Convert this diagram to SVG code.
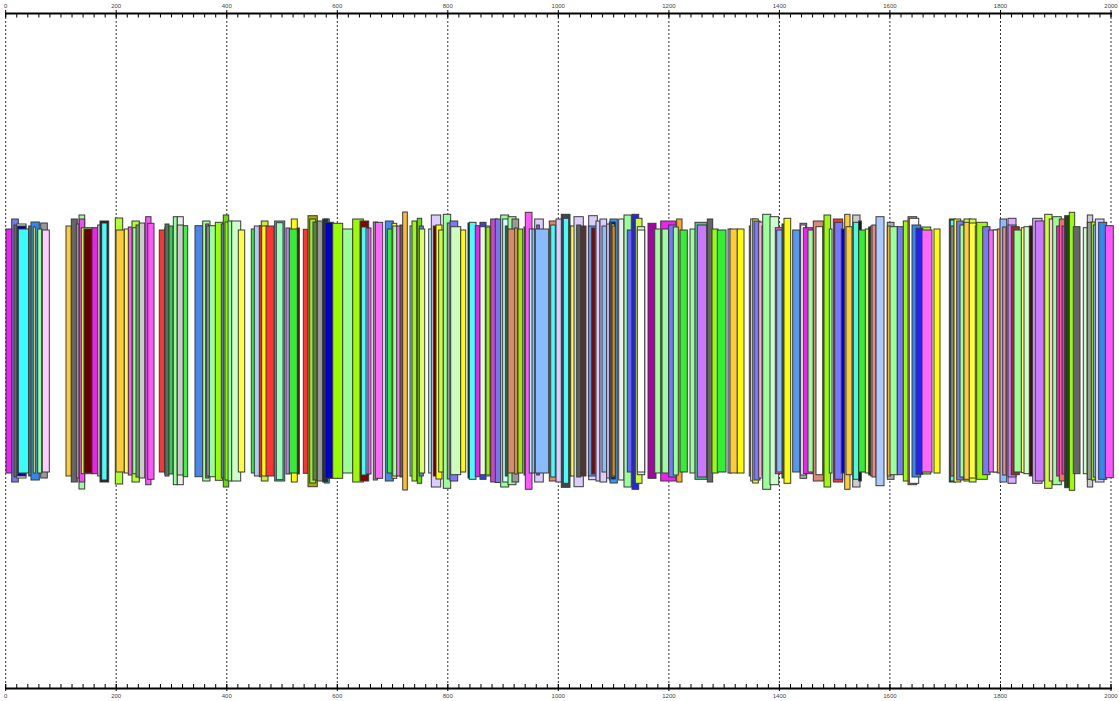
<svg xmlns="http://www.w3.org/2000/svg" width="1119" height="701" viewBox="0 0 1119 701">
<style>
.grid line{stroke:#333;stroke-width:1;stroke-dasharray:2 2}
.ax{stroke:#000;stroke-width:2}
.tk{stroke:#000;stroke-width:1}
.lbl{font-family:"Liberation Sans",Arial,sans-serif;font-size:6px;fill:#444;text-anchor:middle}
#bars rect{stroke:#3a3a3a;stroke-width:1}
</style>
<rect width="1119" height="701" fill="#fff"/>
<g class="grid">
<line x1="5.7" y1="17" x2="5.7" y2="685"/><line x1="116.2" y1="17" x2="116.2" y2="685"/><line x1="226.8" y1="17" x2="226.8" y2="685"/><line x1="337.3" y1="17" x2="337.3" y2="685"/><line x1="447.8" y1="17" x2="447.8" y2="685"/><line x1="558.3" y1="17" x2="558.3" y2="685"/><line x1="668.9" y1="17" x2="668.9" y2="685"/><line x1="779.4" y1="17" x2="779.4" y2="685"/><line x1="889.9" y1="17" x2="889.9" y2="685"/><line x1="1000.5" y1="17" x2="1000.5" y2="685"/><line x1="1111" y1="17" x2="1111" y2="685"/>
</g>
<g id="axis-top">
<line class="ax" x1="5" y1="13.5" x2="1112" y2="13.5"/>
<line x1="5.2" y1="15.5" x2="1112" y2="15.5" stroke="#000" stroke-width="4" stroke-dasharray="1 10.053"/>
<path class="tk" d="M5.7 10v7M116.2 10v7M226.8 10v7M337.3 10v7M447.8 10v7M558.3 10v7M668.9 10v7M779.4 10v7M889.9 10v7M1000.5 10v7M1111 10v7"/>
<text class="lbl" x="5.7" y="8">0</text><text class="lbl" x="116.2" y="8">200</text><text class="lbl" x="226.8" y="8">400</text><text class="lbl" x="337.3" y="8">600</text><text class="lbl" x="447.8" y="8">800</text><text class="lbl" x="558.3" y="8">1000</text><text class="lbl" x="668.9" y="8">1200</text><text class="lbl" x="779.4" y="8">1400</text><text class="lbl" x="889.9" y="8">1600</text><text class="lbl" x="1000.5" y="8">1800</text><text class="lbl" x="1111" y="8">2000</text>
</g>
<g id="axis-bottom">
<line class="ax" x1="5" y1="688.5" x2="1112" y2="688.5"/>
<line x1="5.2" y1="686" x2="1112" y2="686" stroke="#000" stroke-width="4" stroke-dasharray="1 10.053"/>
<path class="tk" d="M5.7 684v7M116.2 684v7M226.8 684v7M337.3 684v7M447.8 684v7M558.3 684v7M668.9 684v7M779.4 684v7M889.9 684v7M1000.5 684v7M1111 684v7"/>
<text class="lbl" x="5.7" y="698">0</text><text class="lbl" x="116.2" y="698">200</text><text class="lbl" x="226.8" y="698">400</text><text class="lbl" x="337.3" y="698">600</text><text class="lbl" x="447.8" y="698">800</text><text class="lbl" x="558.3" y="698">1000</text><text class="lbl" x="668.9" y="698">1200</text><text class="lbl" x="779.4" y="698">1400</text><text class="lbl" x="889.9" y="698">1600</text><text class="lbl" x="1000.5" y="698">1800</text><text class="lbl" x="1111" y="698">2000</text>
</g>
<g id="bars">
<rect x="11.7" y="219" width="6.6" height="263" fill="#7777ee"/>
<rect x="6" y="229" width="5.7" height="244" fill="#ee22ee"/>
<rect x="14" y="225" width="3" height="252" fill="#666"/>
<rect x="16.7" y="224" width="9.3" height="254" fill="#ffffcc"/>
<rect x="17.5" y="226" width="8.5" height="250" fill="#0000aa"/>
<rect x="18.3" y="229" width="10.4" height="244" fill="#33ffff"/>
<rect x="28.7" y="226" width="3.3" height="250" fill="#557777"/>
<rect x="31" y="222" width="8.3" height="258" fill="#3388ee"/>
<rect x="33.3" y="227" width="2" height="246" fill="#ffff33"/>
<rect x="40.7" y="223" width="6.6" height="255" fill="#999"/>
<rect x="37.7" y="229" width="4" height="244" fill="#99ff99"/>
<rect x="42.3" y="230" width="7" height="242" fill="#ffccff"/>

<rect x="66" y="226" width="5.3" height="250" fill="#ffcc33"/>
<rect x="71.3" y="219" width="6" height="263" fill="#666"/>
<rect x="76.3" y="224" width="3.7" height="254" fill="#999"/>
<rect x="79" y="215" width="5.7" height="274" fill="#99ff99"/>
<rect x="79.3" y="219" width="5.4" height="263" fill="#ff44ff"/>
<rect x="81.3" y="227.7" width="11.4" height="246" fill="#bbff33"/>
<rect x="84" y="229" width="8.7" height="244" fill="#660000"/>
<rect x="92" y="227.7" width="6.7" height="246" fill="#ee22ee"/>
<rect x="97.7" y="225" width="3.3" height="251" fill="#ccc"/>
<rect x="100" y="221" width="8.7" height="261" fill="#331111"/>
<rect x="101.7" y="223" width="5.3" height="257" fill="#44ffff"/>

<rect x="115.3" y="218" width="7.4" height="266" fill="#b0ff30"/>
<rect x="116" y="230" width="8.3" height="242" fill="#ffcc33"/>
<rect x="124.3" y="229" width="4.4" height="244" fill="#ffff33"/>
<rect x="128.3" y="227" width="4.4" height="248" fill="#ff55ff"/>
<rect x="132" y="221" width="7.3" height="261" fill="#b0ff30"/>
<rect x="132.7" y="227.7" width="6" height="246" fill="#99ff99"/>
<rect x="136" y="225" width="4" height="252" fill="#669966"/>
<rect x="139.3" y="223" width="5.4" height="255" fill="#ccc"/>
<rect x="145.7" y="216.7" width="5.3" height="268" fill="#ff55ff"/>
<rect x="147.7" y="223.3" width="6.3" height="256" fill="#ff55ff"/>
<rect x="159.3" y="230" width="5.4" height="242" fill="#ff3333"/>
<rect x="164.7" y="228" width="3" height="246" fill="#ff8800"/>
<rect x="165" y="224" width="4" height="252" fill="#557755"/>
<rect x="169" y="226" width="4" height="248" fill="#33cc55"/>
<rect x="173.3" y="216.7" width="4" height="268" fill="#99ff99"/>
<rect x="177.3" y="216.7" width="6" height="268" fill="#eee"/>
<rect x="177.3" y="225" width="6" height="250" fill="#ccc"/>
<rect x="183.3" y="225.7" width="4.4" height="251" fill="#44ee44"/>

<rect x="195" y="225.7" width="8" height="251" fill="#4488ee"/>
<rect x="202.7" y="221" width="7.3" height="260" fill="#99ff99"/>
<rect x="205.7" y="224" width="3" height="254" fill="#ee44ee"/>
<rect x="206.7" y="226" width="3" height="250" fill="#999"/>
<rect x="209.3" y="225.7" width="6.7" height="251" fill="#99ff99"/>
<rect x="215.3" y="222.3" width="7.4" height="258" fill="#99ff00"/>
<rect x="221.3" y="224" width="3" height="254" fill="#7777ff"/>
<rect x="223.3" y="215" width="5.4" height="272" fill="#66dd00"/>
<rect x="225" y="222" width="4" height="258" fill="#99ff00"/>
<rect x="228" y="221" width="4" height="260" fill="#99ff99"/>
<rect x="231.7" y="221" width="9" height="260" fill="#ccffcc"/>
<rect x="238.3" y="230" width="6.4" height="242" fill="#ffff33"/>

<rect x="251.3" y="229" width="4" height="244" fill="#33ee33"/>
<rect x="254.3" y="226" width="5.7" height="250" fill="#aaccff"/>
<rect x="259.3" y="225.7" width="3" height="251" fill="#ff3333"/>
<rect x="261.3" y="221" width="6.7" height="260" fill="#ccee33"/>
<rect x="261.7" y="226" width="5" height="250" fill="#ffff00"/>
<rect x="266" y="226" width="8" height="250" fill="#ff3333"/>
<rect x="274.7" y="221" width="10" height="260" fill="#44cc88"/>
<rect x="276.3" y="222.7" width="6.7" height="257" fill="#99ffbb"/>
<rect x="286" y="228" width="4" height="246" fill="#cc77ff"/>
<rect x="291.3" y="219" width="6" height="263" fill="#ffff00"/>
<rect x="289.3" y="229" width="8.7" height="244" fill="#33ee33"/>
<rect x="297.3" y="228" width="2" height="246" fill="#552200"/>

<rect x="303.3" y="229.3" width="4.7" height="244" fill="#ff3333"/>
<rect x="308" y="215.7" width="9.3" height="271" fill="#aaaa00"/>
<rect x="309.7" y="219" width="6" height="264" fill="#99ee33"/>
<rect x="313" y="222" width="4" height="258" fill="#558833"/>
<rect x="317.3" y="221" width="5.3" height="260" fill="#999"/>
<rect x="324.3" y="219" width="5" height="264" fill="#33ffff"/>
<rect x="322.7" y="219" width="5.3" height="263" fill="#223322"/>
<rect x="325" y="222.3" width="8.3" height="256" fill="#0000cc"/>
<rect x="332.7" y="223.3" width="10" height="255" fill="#99ff00"/>
<rect x="342.7" y="229" width="10" height="244" fill="#99ff99"/>
<rect x="352.7" y="219" width="10.6" height="263" fill="#99ff00"/>
<rect x="360" y="221" width="8.7" height="260" fill="#880000"/>
<rect x="361.3" y="227" width="5.3" height="248" fill="#44ffff"/>
<rect x="366" y="228" width="3" height="246" fill="#88bbff"/>
<rect x="368" y="228" width="3" height="246" fill="#ff55ff"/>
<rect x="373.3" y="222" width="4" height="258" fill="#999"/>
<rect x="375.3" y="222.3" width="7.4" height="256" fill="#ff66ff"/>
<rect x="385.3" y="221" width="8" height="260" fill="#4488ee"/>
<rect x="387.3" y="229" width="5.4" height="244" fill="#33ee33"/>
<rect x="392" y="223.3" width="4.7" height="255" fill="#ffff00"/>
<rect x="392.7" y="226" width="4.7" height="250" fill="#99ff99"/>
<rect x="396.7" y="226" width="4" height="250" fill="#ff66ff"/>

<rect x="400" y="225" width="3" height="252" fill="#556655"/>
<rect x="402.7" y="212" width="4.6" height="278" fill="#ffbb33"/>
<rect x="410" y="226" width="3.3" height="250" fill="#88ccff"/>
<rect x="412" y="221" width="4.7" height="260" fill="#99ff00"/>
<rect x="417.3" y="218.3" width="4.4" height="265" fill="#66dd00"/>
<rect x="419.3" y="226" width="4" height="250" fill="#5588ee"/>
<rect x="419.3" y="229" width="5.4" height="244" fill="#ddff66"/>
<rect x="428.7" y="229" width="3.3" height="244" fill="#aaffff"/>
<rect x="431.3" y="215" width="9.4" height="272" fill="#ddccff"/>
<rect x="433.3" y="226" width="3.3" height="250" fill="#660000"/>
<rect x="436" y="225" width="6" height="254" fill="#ffff00"/>
<rect x="438.7" y="230" width="4.6" height="242" fill="#ccff33"/>
<rect x="443.3" y="214.3" width="7.4" height="274" fill="#99ff99"/>
<rect x="447.3" y="223" width="4.7" height="256" fill="#999"/>
<rect x="450" y="221" width="7.7" height="260" fill="#7777ff"/>
<rect x="450.7" y="226.7" width="10" height="248" fill="#ccffbb"/>
<rect x="460.7" y="230" width="5" height="242" fill="#ffff00"/>

<rect x="468" y="223" width="2" height="255" fill="#440000"/>
<rect x="469.3" y="222.3" width="6.7" height="257" fill="#44ffff"/>
<rect x="475.3" y="225.7" width="5.4" height="251" fill="#ee22ee"/>
<rect x="480" y="222.3" width="6" height="257" fill="#3344ee"/>
<rect x="480" y="226.7" width="6" height="248" fill="#ddffdd"/>
<rect x="485.3" y="226" width="5" height="250" fill="#ccffff"/>
<rect x="486" y="227" width="4" height="248" fill="#99ee00"/>
<rect x="490.7" y="219" width="6.6" height="263" fill="#cc44cc"/>
<rect x="495.3" y="219" width="6.4" height="263.5" fill="#7777ee"/>
<rect x="500.7" y="215" width="8" height="272" fill="#99ff99"/>
<rect x="502.7" y="219" width="6" height="263" fill="#ccffff"/>
<rect x="505.3" y="226" width="3.4" height="250" fill="#226644"/>
<rect x="508" y="216.7" width="8" height="268" fill="#99ff99"/>
<rect x="512" y="219" width="6.7" height="263" fill="#999"/>
<rect x="508" y="229" width="7.3" height="244" fill="#dd8866"/>
<rect x="514.7" y="228" width="2.6" height="246" fill="#ffaa33"/>
<rect x="518" y="229" width="4.7" height="244" fill="#99ee00"/>
<rect x="524" y="227" width="2" height="248" fill="#336633"/>
<rect x="525.3" y="212.3" width="6.7" height="277" fill="#ff55ff"/>
<rect x="529.3" y="229" width="3.3" height="244" fill="#aaffee"/>
<rect x="532" y="229" width="4" height="244" fill="#88bbff"/>
<rect x="534.7" y="219" width="8.6" height="263" fill="#ddccff"/>
<rect x="536.7" y="225" width="2.6" height="250" fill="#7766cc"/>
<rect x="535.3" y="229" width="13.4" height="244" fill="#88bbff"/>
<rect x="549.3" y="221" width="7.4" height="260" fill="#dd8866"/>
<rect x="550.7" y="225" width="4.6" height="252" fill="#44ffff"/>
<rect x="556" y="219" width="6" height="263" fill="#ddccff"/>
<rect x="561.3" y="214.3" width="8.7" height="273" fill="#444"/>
<rect x="563.3" y="218.3" width="5.4" height="265" fill="#44ffff"/>
<rect x="569.3" y="226" width="2" height="250" fill="#aa5533"/>
<rect x="570.7" y="226" width="4" height="250" fill="#ffff44"/>
<rect x="574" y="216.7" width="9.3" height="270" fill="#ddccff"/>
<rect x="576.7" y="225" width="4" height="252" fill="#556655"/>
<rect x="581" y="226" width="5" height="250" fill="#553333"/>
<rect x="588.7" y="215.7" width="8.6" height="264" fill="#ddccff"/>
<rect x="588.3" y="226" width="8.4" height="250" fill="#5599ee"/>
<rect x="591.7" y="228" width="3.3" height="246" fill="#880000"/>
<rect x="596" y="221" width="4" height="260" fill="#ddccff"/>

<rect x="600" y="219" width="6.7" height="263" fill="#ddccff"/>
<rect x="602" y="226" width="4.7" height="246" fill="#88bbff"/>
<rect x="606.7" y="224" width="3.3" height="254" fill="#ddccff"/>
<rect x="609.3" y="222" width="2.7" height="258" fill="#222"/>
<rect x="610" y="219" width="7.3" height="264" fill="#3399ee"/>
<rect x="611" y="222" width="4.3" height="257" fill="#0000aa"/>
<rect x="611.3" y="224" width="3.3" height="253" fill="#ffcc00"/>
<rect x="612" y="226" width="3.3" height="250" fill="#dd8800"/>
<rect x="618.7" y="219" width="5.3" height="261" fill="#eee"/>
<rect x="624" y="215" width="7.3" height="272" fill="#99ff99"/>
<rect x="627.3" y="230" width="4.7" height="242" fill="#6666ff"/>
<rect x="632" y="214.3" width="6.7" height="275" fill="#2222ff"/>
<rect x="635.3" y="218.3" width="6.7" height="265" fill="#ccff33"/>
<rect x="637.3" y="226.7" width="7.4" height="248" fill="#ccffcc"/>
<rect x="637.3" y="230" width="7.4" height="242" fill="#fff"/>

<rect x="648" y="223.3" width="8" height="255" fill="#aa00aa"/>
<rect x="654.7" y="229" width="7.3" height="244" fill="#99ff99"/>
<rect x="660.7" y="221" width="15.3" height="260" fill="#ee22ee"/>
<rect x="662" y="229" width="6.7" height="244" fill="#99ff99"/>
<rect x="668.7" y="225" width="8" height="252" fill="#7777ff"/>
<rect x="676.7" y="219" width="5.3" height="263" fill="#ffaa22"/>
<rect x="673.3" y="227" width="5" height="248" fill="#99ff99"/>
<rect x="680" y="230" width="7.3" height="242" fill="#33ee33"/>
<rect x="690" y="229" width="5.3" height="244" fill="#99ff99"/>
<rect x="695" y="222.3" width="12.3" height="257" fill="#44cc88"/>
<rect x="697.3" y="225" width="9.4" height="252" fill="#cc77ff"/>
<rect x="707.3" y="219" width="5.4" height="263" fill="#666"/>
<rect x="712" y="229" width="6" height="244" fill="#99ff00"/>
<rect x="717.3" y="230" width="8.7" height="242" fill="#33ee33"/>

<rect x="728" y="229" width="3" height="244" fill="#88bbff"/>
<rect x="730" y="229" width="7.3" height="244" fill="#ffcc33"/>
<rect x="737.3" y="229" width="6.7" height="244" fill="#ffff00"/>
<rect x="749.3" y="226" width="2.7" height="250" fill="#cc8800"/>
<rect x="750.7" y="219" width="6" height="262" fill="#ccffff"/>
<rect x="752.7" y="219" width="5.6" height="264" fill="#ffff00"/>
<rect x="754" y="221" width="6" height="259" fill="#7777ff"/>
<rect x="758.7" y="222" width="5.3" height="256" fill="#ffaacc"/>
<rect x="762" y="226" width="2" height="250" fill="#555"/>
<rect x="762.7" y="214.3" width="8" height="275" fill="#99ff99"/>
<rect x="770" y="216.7" width="8.7" height="268" fill="#ccffcc"/>
<rect x="775.3" y="227.7" width="7.4" height="246" fill="#ff55ee"/>
<rect x="776.7" y="230" width="6" height="242" fill="#88bbff"/>
<rect x="782" y="224" width="3" height="254" fill="#445544"/>
<rect x="784" y="218.3" width="6.7" height="265" fill="#ffff00"/>
<rect x="792.7" y="230" width="7.3" height="242" fill="#5599ee"/>

<rect x="800" y="223.3" width="6.7" height="255" fill="#aaa"/>
<rect x="800.7" y="225" width="5" height="250" fill="#fff"/>
<rect x="803.3" y="227.7" width="9.4" height="246" fill="#ee22ee"/>
<rect x="808" y="230" width="5.3" height="242" fill="#99ff99"/>
<rect x="813.3" y="221" width="10" height="260" fill="#dd8877"/>
<rect x="816" y="226.7" width="6.7" height="248" fill="#fff"/>
<rect x="824" y="215" width="6.7" height="272" fill="#99ff00"/>
<rect x="829.3" y="229" width="2.7" height="244" fill="#99ff99"/>
<rect x="833.3" y="219" width="9.4" height="263" fill="#ff3333"/>
<rect x="834.7" y="222.3" width="8" height="257" fill="#7777ff"/>
<rect x="841.3" y="229" width="5.4" height="244" fill="#0000dd"/>
<rect x="844.7" y="214.3" width="5.3" height="275" fill="#ffcc33"/>
<rect x="846" y="226.7" width="6" height="248" fill="#ffcc33"/>
<rect x="852.7" y="215" width="7.3" height="272" fill="#ccc"/>
<rect x="853.3" y="222.3" width="6" height="257" fill="#44ffdd"/>
<rect x="858.7" y="221" width="2.6" height="260" fill="#111"/>
<rect x="858.7" y="230" width="7.3" height="242" fill="#33ee33"/>
<rect x="865.3" y="229" width="4.7" height="244" fill="#ccff66"/>
<rect x="868.7" y="227" width="2.6" height="248" fill="#223322"/>
<rect x="870.7" y="226" width="3.3" height="250" fill="#99ee00"/>
<rect x="872" y="225" width="4" height="252" fill="#ee8888"/>
<rect x="876" y="216.7" width="8" height="269" fill="#aaccff"/>

<rect x="887.3" y="222.3" width="6.7" height="257" fill="#aaa"/>
<rect x="887.3" y="226" width="3.3" height="250" fill="#ffaa33"/>
<rect x="890" y="226.7" width="7.3" height="248" fill="#99ff99"/>
<rect x="897.3" y="226.7" width="6" height="248" fill="#7777ff"/>
<rect x="903.3" y="221" width="5.4" height="260" fill="#99ff00"/>
<rect x="908" y="216.7" width="8.7" height="268" fill="#dd8866"/>
<rect x="909.3" y="218.3" width="9.4" height="265" fill="#fff"/>
<rect x="912" y="225" width="8.7" height="252" fill="#3388ee"/>
<rect x="920.7" y="227" width="10" height="247" fill="#99ff00"/>
<rect x="916" y="228.3" width="6.7" height="246" fill="#2222ff"/>
<rect x="922" y="230" width="10" height="242" fill="#ff66ff"/>
<rect x="934" y="229" width="6" height="244" fill="#ffff00"/>

<rect x="949.3" y="219" width="6" height="263" fill="#222"/>
<rect x="950.3" y="220" width="4" height="261" fill="#44ffff"/>
<rect x="950.7" y="226" width="3.3" height="250" fill="#888"/>
<rect x="954" y="219" width="6.7" height="263" fill="#ffff00"/>
<rect x="956.7" y="221" width="6.6" height="259" fill="#7777ff"/>
<rect x="960" y="225" width="4.7" height="252" fill="#99ff99"/>
<rect x="964" y="219" width="6.7" height="262" fill="#ccff33"/>
<rect x="964" y="222.3" width="6" height="257" fill="#ffcc33"/>
<rect x="969.3" y="219" width="6.7" height="263" fill="#ccff33"/>
<rect x="969.3" y="223" width="6.7" height="255" fill="#ffff33"/>
<rect x="975.3" y="226" width="2" height="250" fill="#ccffff"/>
<rect x="976.7" y="222.3" width="10.6" height="257" fill="#99ff00"/>
<rect x="982.7" y="226.7" width="7.3" height="248" fill="#7777ff"/>
<rect x="988.7" y="230" width="8" height="242" fill="#ff66ff"/>
<rect x="993.3" y="230" width="5.4" height="242" fill="#fff"/>
<rect x="997.3" y="229" width="3" height="244" fill="#ffaa33"/>

<rect x="1000" y="219" width="6.7" height="263" fill="#88bbff"/>
<rect x="1002.7" y="227" width="3.3" height="248" fill="#ee8888"/>
<rect x="1008" y="218.3" width="8" height="265" fill="#ddaaff"/>
<rect x="1008" y="225" width="8" height="252" fill="#cc77ff"/>
<rect x="1011.3" y="226.7" width="8" height="248" fill="#993322"/>
<rect x="1014" y="230" width="8" height="242" fill="#99ff99"/>
<rect x="1021.3" y="227.7" width="4" height="245" fill="#ffff66"/>
<rect x="1024" y="226.7" width="7.3" height="247" fill="#ccffcc"/>
<rect x="1029.3" y="226" width="4" height="250" fill="#331111"/>
<rect x="1032.7" y="218.3" width="9.3" height="265" fill="#ddaaff"/>
<rect x="1035.3" y="221" width="8.7" height="260" fill="#cc77ff"/>
<rect x="1044.7" y="214.3" width="7.3" height="274" fill="#ccff33"/>
<rect x="1049.3" y="219" width="5.4" height="262" fill="#ffccee"/>
<rect x="1052.7" y="216.7" width="8.6" height="268" fill="#99ff99"/>
<rect x="1056.7" y="226" width="5.3" height="250" fill="#ee22ee"/>
<rect x="1059.3" y="219" width="8.7" height="262" fill="#ff6666"/>
<rect x="1062" y="226" width="6" height="248" fill="#ee22ee"/>
<rect x="1064.7" y="215.7" width="6.6" height="272" fill="#224422"/>
<rect x="1069.3" y="212.3" width="5.4" height="278" fill="#99ff00"/>
<rect x="1073.3" y="226.7" width="6.7" height="247" fill="#666"/>
<rect x="1083.3" y="227.7" width="4" height="246" fill="#ccffcc"/>
<rect x="1087.3" y="215" width="5.4" height="272" fill="#ccc"/>
<rect x="1087.3" y="222.3" width="4.7" height="257" fill="#999"/>
<rect x="1091.3" y="222" width="4" height="258" fill="#99ff00"/>
<rect x="1093.3" y="225" width="3.4" height="252" fill="#88bbff"/>
<rect x="1095.3" y="219" width="8.7" height="263" fill="#ddccff"/>
<rect x="1098.7" y="222.3" width="8" height="257" fill="#3388ee"/>
<rect x="1105.3" y="225.7" width="8" height="252" fill="#ff55ff"/>
</g>
</svg>
